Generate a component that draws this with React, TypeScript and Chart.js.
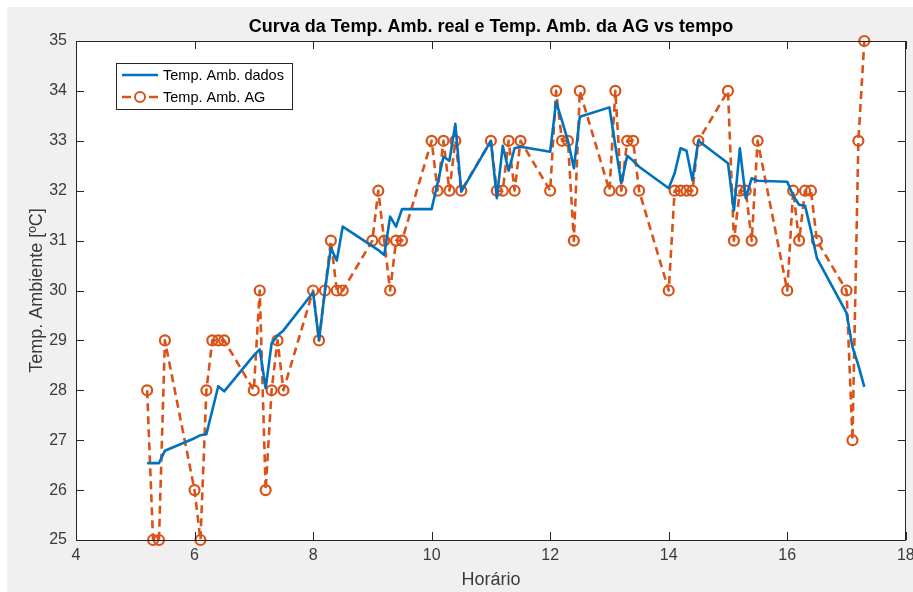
import React, { useEffect, useRef } from "react";
import { Chart, registerables } from "chart.js";

Chart.register(...registerables);

const horario = [
  5.2, 5.3, 5.4, 5.5,
  6.0, 6.1, 6.2, 6.3, 6.4, 6.5,
  7.0, 7.1, 7.2, 7.3, 7.4, 7.5,
  8.0, 8.1, 8.2, 8.3, 8.4, 8.5,
  9.0, 9.1, 9.2, 9.3, 9.4, 9.5,
  10.0, 10.1, 10.2, 10.3, 10.4, 10.5,
  11.0, 11.1, 11.2, 11.3, 11.4, 11.5,
  12.0, 12.1, 12.2, 12.3, 12.4, 12.5,
  13.0, 13.1, 13.2, 13.3, 13.4, 13.5,
  14.0, 14.1, 14.2, 14.3, 14.4, 14.5,
  15.0, 15.1, 15.2, 15.3, 15.4, 15.5,
  16.0, 16.1, 16.2, 16.3, 16.4, 16.5,
  17.0, 17.1, 17.2, 17.3,
];

const tempDados = [
  26.54, 26.54, 26.54, 26.79,
  27.04, 27.1, 27.12, 27.6, 28.08, 27.98,
  28.7, 28.82, 28.04, 28.94, 29.1, 29.2,
  29.96, 29.0, 30.0, 30.85, 30.6, 31.28,
  30.89, 30.81, 30.71, 31.48, 31.28, 31.63,
  31.63, 32.15, 32.68, 32.6, 33.34, 31.98,
  33.0, 31.85, 32.9, 32.4, 32.85, 32.88,
  32.78, 33.78, 33.4, 33.0, 32.45, 33.48,
  33.67, 32.9, 32.15, 32.7, 32.6, 32.48,
  32.05, 32.35, 32.85, 32.8, 32.21, 33.0,
  32.55, 31.6, 32.85, 31.85, 32.25, 32.2,
  32.18, 31.9, 31.72, 31.7, 31.2, 30.65,
  29.55, 28.87, 28.5, 28.07,
];

const tempAG = [
  28, 25, 25, 29,
  26, 25, 28, 29, 29, 29,
  28, 30, 26, 28, 29, 28,
  30, 29, 30, 31, 30, 30,
  31, 32, 31, 30, 31, 31,
  33, 32, 33, 32, 33, 32,
  33, 32, 32, 33, 32, 33,
  32, 34, 33, 33, 31, 34,
  32, 34, 32, 33, 33, 32,
  30, 32, 32, 32, 32, 33,
  34, 31, 32, 32, 31, 33,
  30, 32, 31, 32, 32, 31,
  30, 27, 33, 35,
];

const labelDados = "Temp. Amb. dados";
const labelAG = "Temp. Amb. AG";
const titleText = "Curva da Temp. Amb. real e Temp. Amb. da AG vs tempo";
const xLabel = "Horário";
const yLabel = "Temp. Ambiente [ºC]";

const BLUE = "#0072BD";
const ORANGE = "#D95319";
const AXIS = "#262626";
const TEXT = "#3a3a3a";
const FONT = "'Liberation Sans', Arial, sans-serif";
const DASH = [8, 5];

const decorPlugin = {
  id: "matlabDecor",
  beforeDraw(chart: any) {
    const { ctx, width, height, chartArea } = chart;
    ctx.save();
    ctx.fillStyle = "#ffffff";
    ctx.fillRect(0, 0, width, height);
    ctx.fillStyle = "#f0f0f0";
    ctx.fillRect(7, 7, width - 7, height - 7);
    ctx.fillStyle = "#ffffff";
    ctx.fillRect(chartArea.left, chartArea.top, chartArea.right - chartArea.left, chartArea.bottom - chartArea.top);
    ctx.restore();
  },
  afterDraw(chart: any) {
    const { ctx, chartArea } = chart;
    const xs = chart.scales.x;
    const ys = chart.scales.y;
    const L = chartArea.left, R = chartArea.right, T = chartArea.top, B = chartArea.bottom;
    ctx.save();
    ctx.strokeStyle = AXIS;
    ctx.lineWidth = 1;
    ctx.setLineDash([]);
    ctx.beginPath();
    ctx.rect(Math.round(L) + 0.5, Math.round(T) + 0.5, Math.round(R - L) - 1, Math.round(B - T));
    ctx.stroke();
    const tl = 8;
    ctx.beginPath();
    xs.ticks.forEach((t: any) => {
      const px = Math.round(xs.getPixelForValue(t.value)) + 0.5;
      ctx.moveTo(px, B);
      ctx.lineTo(px, B - tl);
      ctx.moveTo(px, T);
      ctx.lineTo(px, T + tl);
    });
    ys.ticks.forEach((t: any) => {
      const py = Math.round(ys.getPixelForValue(t.value)) + 0.5;
      ctx.moveTo(L, py);
      ctx.lineTo(L + tl, py);
      ctx.moveTo(R, py);
      ctx.lineTo(R - tl, py);
    });
    ctx.stroke();

    // title
    ctx.fillStyle = "#000000";
    ctx.font = `bold 18px ${FONT}`;
    ctx.textAlign = "center";
    ctx.textBaseline = "middle";
    ctx.fillText(titleText, (L + R) / 2, 27);

    // legend
    const bx = 116, by = 63, bw = 176, bh = 46;
    ctx.fillStyle = "#ffffff";
    ctx.fillRect(bx, by, bw, bh);
    ctx.strokeStyle = AXIS;
    ctx.lineWidth = 1;
    ctx.strokeRect(bx + 0.5, by + 0.5, bw, bh);
    ctx.font = `14.5px ${FONT}`;
    ctx.textAlign = "left";
    ctx.textBaseline = "middle";
    const ds = chart.data.datasets;
    const rows = [75, 97];
    ds.forEach((d: any, i: number) => {
      const y = rows[i];
      ctx.strokeStyle = d.borderColor;
      ctx.lineWidth = 2.5;
      ctx.setLineDash([]);
      if (i === 1) {
        ctx.beginPath();
        ctx.moveTo(122, y);
        ctx.lineTo(131, y);
        ctx.moveTo(149, y);
        ctx.lineTo(158, y);
        ctx.stroke();
        ctx.lineWidth = 2;
        ctx.beginPath();
        ctx.arc(140, y, 5, 0, Math.PI * 2);
        ctx.stroke();
      } else {
        ctx.beginPath();
        ctx.moveTo(122, y);
        ctx.lineTo(158, y);
        ctx.stroke();
      }
      ctx.fillStyle = "#000000";
      ctx.fillText(d.label, 163, y + 1);
    });
    ctx.restore();
  },
};

export default function App() {
  const ref = useRef<HTMLCanvasElement | null>(null);
  useEffect(() => {
    if (!ref.current) return;
    const chart = new Chart(ref.current, {
      type: "line",
      data: {
        datasets: [
          {
            label: labelDados,
            data: horario.map((x, i) => ({ x, y: tempDados[i] })),
            borderColor: BLUE,
            backgroundColor: BLUE,
            borderWidth: 2.6,
            borderJoinStyle: "round",
            pointRadius: 0,
            tension: 0,
            clip: false as any,
          },
          {
            label: labelAG,
            data: horario.map((x, i) => ({ x, y: tempAG[i] })),
            borderColor: ORANGE,
            backgroundColor: "rgba(0,0,0,0)",
            borderWidth: 2.6,
            borderJoinStyle: "round",
            borderDash: DASH,
            pointRadius: 5,
            pointBorderWidth: 2.2,
            pointBorderColor: ORANGE,
            pointBackgroundColor: "rgba(0,0,0,0)",
            tension: 0,
            clip: false as any,
          },
        ],
      },
      options: {
        animation: false,
        responsive: false,
        events: [],
        layout: { padding: { top: 41, right: 3, left: 0, bottom: 0 } },
        plugins: {
          legend: { display: false },
          title: { display: false },
          tooltip: { enabled: false },
        },
        scales: {
          x: {
            type: "linear",
            min: 4,
            max: 18,
            grid: { display: false, drawTicks: false },
            border: { display: false },
            ticks: {
              stepSize: 2,
              padding: 6,
              color: TEXT,
              font: { family: FONT, size: 16 },
              maxRotation: 0,
            },
            title: {
              display: true,
              text: xLabel,
              color: TEXT,
              font: { family: FONT, size: 18 },
              padding: { top: 0, bottom: 1 },
            },
            afterFit(s: any) {
              s.height = 52;
              s.paddingLeft = 0;
              s.paddingRight = 0;
            },
          },
          y: {
            type: "linear",
            min: 25,
            max: 35,
            grid: { display: false, drawTicks: false },
            border: { display: false },
            ticks: {
              stepSize: 1,
              padding: 9,
              color: TEXT,
              font: { family: FONT, size: 16 },
            },
            title: {
              display: true,
              text: yLabel,
              color: TEXT,
              font: { family: FONT, size: 18 },
              padding: { top: 26, bottom: 0 },
            },
            afterFit(s: any) {
              s.width = 76;
              s.paddingTop = 0;
              s.paddingBottom = 0;
            },
          },
        },
      },
      plugins: [decorPlugin],
    });
    return () => chart.destroy();
  }, []);
  return (
    <canvas
      ref={ref}
      width={913}
      height={592}
      style={{ position: "absolute", left: 0, top: 0, width: 913, height: 592 }}
    />
  );
}
